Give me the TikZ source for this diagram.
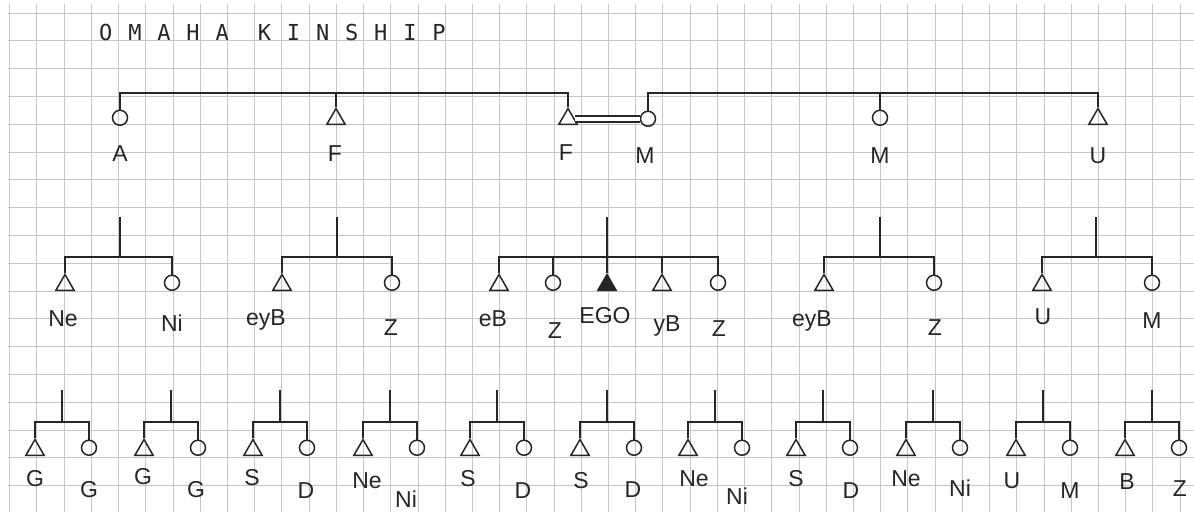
\documentclass[tikz,border=0pt]{standalone}
\usepackage{fontspec}
\setmainfont{Liberation Sans}
\newfontfamily\titlefont[LetterSpace=72]{DejaVu Sans Mono}
\usetikzlibrary{shapes.geometric}

\tikzset{
  ink/.style={draw=black!85, line width=1.5pt},
  male/.style={ink, regular polygon, regular polygon sides=3, minimum size=21pt, inner sep=0pt, anchor=south},
  female/.style={ink, circle, minimum size=15pt, inner sep=0pt, anchor=south},
  egonode/.style={male, fill=black!85},
  tie/.style={draw=black!85, line width=1.8pt},
  kin/.style={font=\fontsize{23}{25}\selectfont, text=black!85, inner sep=0pt, text height=16pt, text depth=0pt},
  paper/.style={gray!45, line width=0.8pt}
}

\begin{document}
\begin{tikzpicture}[x=1pt,y=-1pt]
  \useasboundingbox (0,0) rectangle (1194,512);
  \fill[white] (0,0) rectangle (1194,512);
  \foreach \k in {0,...,43}
    \draw[paper] ({9.6+27.22*\k},4) -- ({9.6+27.22*\k},512);
  \foreach \k in {0,...,17}
    \draw[paper] (8,{13+27.8*\k}) -- (1194,{13+27.8*\k});

  \node[anchor=west, inner sep=0pt, text=black!85, font=\titlefont\fontsize{22}{24}\selectfont] (title) at (99,32) {OMAHA KINSHIP};

  \coordinate (topbar) at (0,93);
  \node[female] (a) at (120,126) {};
  \node[male] (f1) at (336,125) {};
  \node[male] (f2) at (568,125) {};
  \node[female] (m1) at (648,127) {};
  \node[female] (m2) at (880,126) {};
  \node[male] (u1) at (1098,125) {};
  \draw[tie] (a.north) |- (f2.north |- topbar) -- (f2.north);
  \draw[tie] (f1.north) -- (f1.north |- topbar);
  \draw[tie] (m1.north) |- (u1.north |- topbar) -- (u1.north);
  \draw[tie] (m2.north) -- (m2.north |- topbar);
  \draw[tie, line width=1.6pt, double=white, double distance=4.5pt] (f2.east) -- (m1.west |- f2.east);

  \foreach \n/\x/\l/\r in {1/120/65/172, 2/337/282/392, 4/880/824/934, 5/1096/1042/1152}{
    \node[male] (bl\n) at (\l,291) {};
    \node[female] (bz\n) at (\r,291) {};
    \coordinate (s\n) at (\x,257);
    \coordinate (t\n) at (\x,217);
    \draw[tie] (t\n) -- (s\n);
    \draw[tie] (bl\n.north) |- (s\n) -| (bz\n.north);
  }
  \node[male] (eb) at (499,291) {};
  \node[female] (z2) at (553,291) {};
  \node[egonode] (ego) at (607,291) {};
  \node[male] (yb) at (662,291) {};
  \node[female] (z3) at (718,291) {};
  \coordinate (s3) at (607,257);
  \coordinate (t3) at (607,217);
  \draw[tie] (eb.north) |- (s3) -| (z3.north);
  \draw[tie] (t3) -- (ego.north);
  \draw[tie] (z2.north) -- (z2.north |- s3);
  \draw[tie] (yb.north) -- (yb.north |- s3);

  \foreach \n/\x in {1/62,2/171,3/280,4/390,5/497,6/607,7/715,8/823,9/933,10/1043,11/1152}{
    \node[male] (cl\n) at (\x-27,456) {};
    \node[female] (cr\n) at (\x+27,456) {};
    \coordinate (p\n) at (\x,422);
    \coordinate (q\n) at (\x,390);
    \draw[tie] (q\n) -- (p\n);
    \draw[tie] (cl\n.north) |- (p\n) -| (cr\n.north);
  }

  \foreach \nm/\x/\y/\t in {
      la/120/153/A, lf1/335/153/F, lf2/566/152/F, lm1/645/155/M, lm2/880/155/M, lu1/1098/155/U,
      lne1/63/318/Ne, lni1/172/323/Ni, leyb1/266/317/eyB, lz1/391/327/Z,
      leb/493/318/eB, lz2/555/330/Z, lego/605/315/EGO, lyb/667/323/yB, lz3/719/328/Z,
      leyb2/812/318/eyB, lz4/935/327/Z, lu2/1043/316/U, lm3/1152/320/M,
      lg1/35/478/G, lg2/89/489/G, lg3/143/476/G, lg4/196/489/G,
      ls1/252/477/S, ld1/306/490/D, lne3/367/480/Ne, lni3/406/499/Ni,
      ls2/468/478/S, ld2/523/490/D, ls3/581/480/S, ld3/633/489/D,
      lne4/694/478/Ne, lni4/737/496/Ni, ls4/796/478/S, ld4/851/490/D,
      lne5/906/478/Ne, lni5/960/488/Ni, lu3/1012/480/U, lm4/1070/490/M,
      lb1/1127/481/B, lz5/1180/488/Z}
    \node[kin] (\nm) at (\x,\y) {\t};
\end{tikzpicture}
\end{document}
